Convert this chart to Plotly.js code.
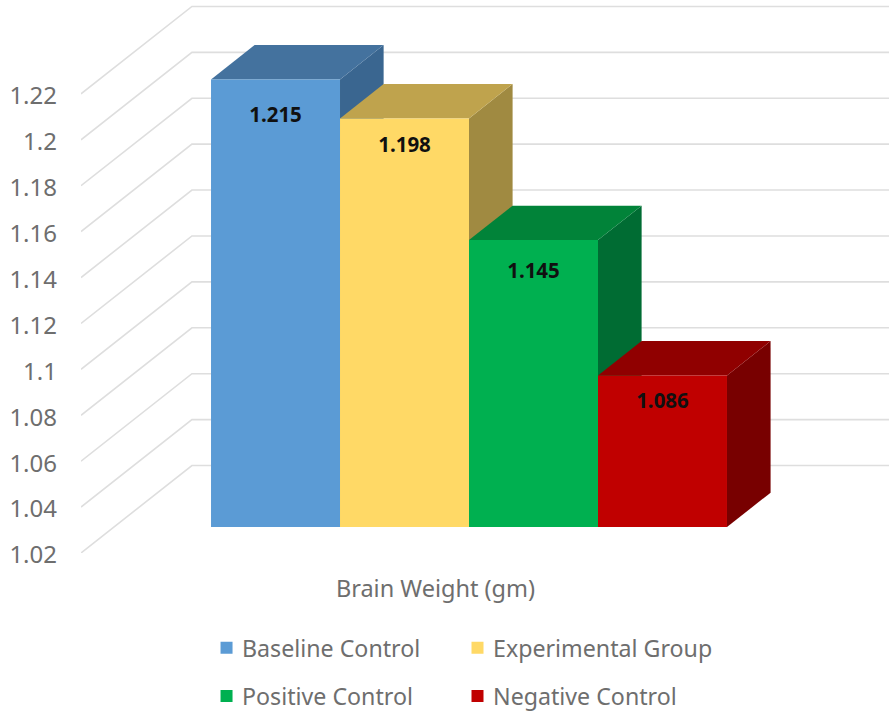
<!DOCTYPE html>
<html>
<head>
<meta charset="utf-8">
<script src="https://cdn.plot.ly/plotly-3.0.1.min.js"></script>
<style>
html,body{margin:0;padding:0;background:#fff}
#chart{width:889px;height:711px}
/* Larger legend keys, sitting closer to their labels */
.legendbar{stroke-width:3px!important}
.legendpoints{transform:translateX(4.5px)}
/* Tick labels sit slightly under the wall lines they name */
.yaxislayer-above{transform:translateY(2px)}
</style>
</head>
<body>
<div id="chart"></div>
<script>
// Brain weight per group
const groups = ['Baseline Control', 'Experimental Group', 'Positive Control', 'Negative Control'];
const brainWeight = [1.215, 1.198, 1.145, 1.086];
const valueLabels = ['1.215', '1.198', '1.145', '1.086'];
const labelDrop = [0.0161, 0.0126, 0.0143, 0.0118];
const legendSlot = ['legend', 'legend2', 'legend', 'legend2'];

// Axis
const tickValues = [1.02, 1.04, 1.06, 1.08, 1.1, 1.12, 1.14, 1.16, 1.18, 1.2, 1.22];
const tickLabels = ['1.02', '1.04', '1.06', '1.08', '1.1', '1.12', '1.14', '1.16', '1.18', '1.2', '1.22'];
const categoryLabel = 'Brain Weight (gm)';

// Face colours: front, top, side
const frontColors = ['#5B9BD5', '#FFD966', '#00B050', '#C00000'];
const topColors = ['#44729E', '#BFA34D', '#018339', '#900000'];
const sideColors = ['#3A6690', '#A08A41', '#006C33', '#780000'];
const gridColor = '#DEDEDE';
const textColor = '#6E6E6E';
const fontFamily = '"Noto Sans", "Open Sans", sans-serif';

// Oblique projection, in axis units
const xMin = -1.508, xMax = 4.756;
const yBase = 1.02, ySpan = 0.2409;
const wallDx = 0.86, wallDy = 0.0381;   // front of the side wall to the back wall
const barDx = 0.338, barDy = 0.015;     // depth of each bar
const barLift = 0.0113;                 // bars stand part-way back on the floor
const labelTickX = 1.24;

const poly = pts => 'M' + pts.map(p => p[0] + ' ' + p[1]).join('L') + 'Z';
const line = pts => 'M' + pts.map(p => p[0] + ' ' + p[1]).join('L');

// Wall gridlines, behind everything else
const shapes = tickValues.map(v => ({
  type: 'path', xref: 'x', yref: 'y', layer: 'below',
  path: line([[xMin, v], [xMin + wallDx, v + wallDy], [xMax, v + wallDy]]),
  line: {color: gridColor, width: 1.6}
}));

// Top and side faces, left to right so that each bar overlaps the previous one
brainWeight.forEach((v, i) => {
  const l = i - 0.5, r = i + 0.5;
  shapes.push({
    type: 'path', xref: 'x', yref: 'y2', layer: 'below',
    path: poly([[r, yBase], [r + barDx, yBase + barDy], [r + barDx, v + barDy], [r, v]]),
    fillcolor: sideColors[i], line: {width: 0}
  });
  shapes.push({
    type: 'path', xref: 'x', yref: 'y2', layer: 'below',
    path: poly([[l, v], [l + barDx, v + barDy], [r + barDx, v + barDy], [r, v]]),
    fillcolor: topColors[i], line: {width: 0}
  });
});

// Front faces
const traces = groups.map((name, i) => ({
  type: 'bar', name: name,
  x: [i], y: [brainWeight[i] - yBase], base: [yBase], width: [1],
  yaxis: 'y2',
  marker: {color: frontColors[i], line: {color: frontColors[i], width: 0}},
  legend: legendSlot[i], legendgroup: name,
  hoverinfo: 'name+text', hovertext: valueLabels[i]
}));

// Value labels
traces.push({
  type: 'scatter', mode: 'text', yaxis: 'y2', showlegend: false, hoverinfo: 'skip',
  x: groups.map((_, i) => i),
  y: brainWeight.map((v, i) => v - labelDrop[i]),
  text: valueLabels,
  textposition: 'middle center',
  textfont: {family: fontFamily, size: 20.5, color: '#101010', weight: 700}
});

const legendBase = {
  orientation: 'v', xanchor: 'left', yanchor: 'top',
  bgcolor: 'rgba(0,0,0,0)', tracegroupgap: 15,
  font: {family: fontFamily, size: 23.2, color: textColor}
};

const layout = {
  width: 889, height: 711,
  margin: {l: 81, r: 0, t: 0, b: 157.5, pad: 0, autoexpand: false},
  paper_bgcolor: '#fff', plot_bgcolor: '#fff',
  barmode: 'overlay', showlegend: true,
  xaxis: {
    range: [xMin, xMax], showgrid: false, zeroline: false, showline: false, ticks: '',
    tickmode: 'array', tickvals: [labelTickX], ticktext: [categoryLabel],
    ticklabelstandoff: 19,
    tickfont: {family: fontFamily, size: 23.5, color: textColor}
  },
  yaxis: {
    range: [yBase, yBase + ySpan], showgrid: false, zeroline: false, showline: false, ticks: '',
    tickmode: 'array', tickvals: tickValues, ticktext: tickLabels,
    ticklabelstandoff: 23,
    tickfont: {family: fontFamily, size: 24, color: textColor}
  },
  yaxis2: {
    overlaying: 'y', range: [yBase - barLift, yBase - barLift + ySpan],
    visible: false, showgrid: false, zeroline: false
  },
  legend: Object.assign({x: 0.1498, y: -0.1325}, legendBase),
  legend2: Object.assign({x: 0.4604, y: -0.1325}, legendBase),
  shapes: shapes
};

Plotly.newPlot('chart', traces, layout, {displayModeBar: false, responsive: false});
</script>
</body>
</html>
